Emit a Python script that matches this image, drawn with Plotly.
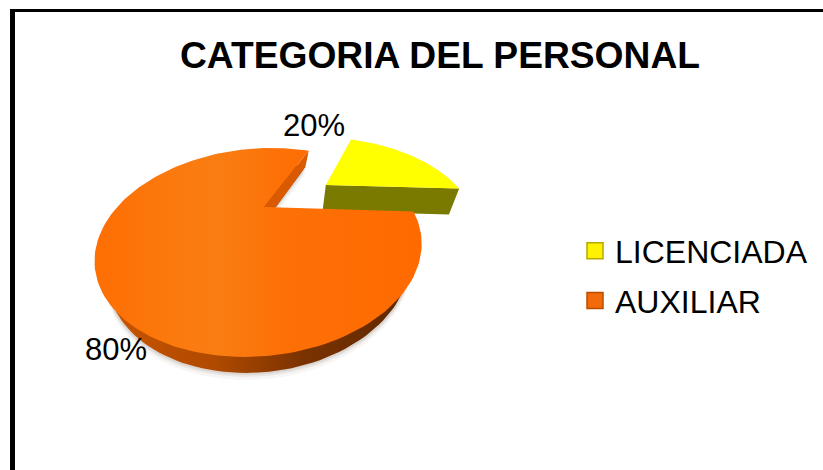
import numpy as np
import plotly.graph_objects as go

title = "CATEGORIA DEL PERSONAL"
categories = ["LICENCIADA", "AUXILIAR"]
values = [20, 80]

WIDTH, HEIGHT = 823, 470
FONT = "Liberation Sans, Arial, sans-serif"

# projection of the unit pie disc on the page (perspective tilt)
CX, CY, A, B, K, SKEW = 264, 207, 146.8, 84.7, 0.435, 11
NADIR_X = 265
FIRST_ANGLE = 69.0   # degrees, where the yellow slice begins
EXPLODE = 0.54


def project(u, v):
    d = 1 + K * np.asarray(v)
    return CX + (A * np.asarray(u) + SKEW * np.asarray(v)) / d, CY - B * np.asarray(v) / d


def lowered(x, y, depth, shrink):
    return NADIR_X + shrink * (np.asarray(x) - NADIR_X), np.asarray(y) + depth


def slice_outline(start_deg, sweep_deg, offset=0.0):
    mid = np.radians(start_deg + sweep_deg / 2)
    ox, oy = offset * np.cos(mid), offset * np.sin(mid)
    t = np.radians(np.linspace(start_deg, start_deg + sweep_deg, 160))
    u = np.concatenate([[ox], ox + np.cos(t), [ox]])
    v = np.concatenate([[oy], oy + np.sin(t), [oy]])
    return project(u, v)


total = sum(values)
yellow_sweep = -360 * values[0] / total      # clockwise from FIRST_ANGLE
orange_sweep = 360 * values[1] / total       # counter-clockwise from FIRST_ANGLE

yx, yy = slice_outline(FIRST_ANGLE, yellow_sweep, EXPLODE)
ox, oy = slice_outline(FIRST_ANGLE, orange_sweep)

fig = go.Figure()


def poly(x, y, color=None, gradient=None):
    kw = dict(fillgradient=gradient) if gradient else dict(fillcolor=color)
    fig.add_trace(go.Scatter(x=list(x), y=list(y), mode="lines", fill="toself",
                             line=dict(width=0), showlegend=False, hoverinfo="skip", **kw))


# soft shadow below the pie
for extra, alpha in [(7, 0.05), (4, 0.08), (2, 0.10)]:
    sx, sy = lowered(ox, oy, 16 + extra, 0.93)
    poly(sx, sy, f"rgba(90,70,50,{alpha})")

# yellow slice: front wall then top
fx, fy = yx[[0, -2]], yy[[0, -2]]
lx, ly = lowered(fx, fy, 26, 0.947)
poly(list(fx) + list(lx[::-1]), list(fy) + list(ly[::-1]), "#7A7A00")
poly(yx, yy, "#FFFF00")

# orange slice: outer wall, inner wall, top
lox, loy = lowered(ox, oy, 16, 0.925)
poly(lox, loy, gradient=dict(type="horizontal", colorscale=[
    [0, "#C85400"], [0.35, "#B04A00"], [0.65, "#7A3200"], [1, "#5E2800"]]))
wx = [ox[0], ox[1], lox[1], lox[0]]
wy = [oy[0], oy[1], loy[1], loy[0]]
poly(wx, wy, "#D95A00")
poly(ox, oy, gradient=dict(type="horizontal", colorscale=[
    [0, "#FE6E03"], [0.25, "#FB7A0E"], [0.38, "#F97D12"], [0.58, "#FD7006"], [1, "#FF6A00"]]))

# legend entries
for name, colour, edge in zip(categories, ["#FFF200", "#F26A0A"], ["#B5A800", "#B84E00"]):
    fig.add_trace(go.Scatter(x=[None], y=[None], mode="markers", name=name, legendgroup=name,
                             marker=dict(symbol="square", size=16, color=colour,
                                         line=dict(width=1.5, color=edge))))

label_pos = [(314, 125), (116, 349)]
annotations = [dict(x=px, y=py, xref="x", yref="y", text=f"{v}%", showarrow=False,
                    font=dict(family=FONT, size=31, color="#000000"))
               for v, (px, py) in zip(values, label_pos)]

fig.update_layout(
    width=WIDTH, height=HEIGHT,
    margin=dict(l=0, r=0, t=0, b=0),
    paper_bgcolor="white", plot_bgcolor="white",
    title=dict(text=f"<b>{title}</b>", x=440 / WIDTH, y=1 - 54.5 / HEIGHT, xanchor="center", yanchor="middle",
               font=dict(family=FONT, size=37.2, color="#000000")),
    xaxis=dict(range=[0, WIDTH], visible=False, domain=[0, 1]),
    yaxis=dict(range=[HEIGHT, 0], visible=False, domain=[0, 1]),
    legend=dict(x=575 / WIDTH, y=1 - 276 / HEIGHT, xanchor="left", yanchor="middle",
                font=dict(family=FONT, size=32, color="#000000"),
                itemwidth=30, tracegroupgap=5, bgcolor="rgba(0,0,0,0)",
                itemclick=False, itemdoubleclick=False),
    shapes=[
        dict(type="rect", xref="paper", yref="paper", x0=10 / WIDTH, x1=15 / WIDTH, y0=0, y1=1 - 9 / HEIGHT,
             fillcolor="black", line=dict(width=0)),
        dict(type="rect", xref="paper", yref="paper", x0=10 / WIDTH, x1=1, y0=1 - 12 / HEIGHT, y1=1 - 9 / HEIGHT,
             fillcolor="black", line=dict(width=0)),
    ],
    annotations=annotations,
)

fig.write_html("out.html", config=dict(displayModeBar=False),
               post_script="document.body.style.margin='0';document.body.style.overflow='hidden';")
